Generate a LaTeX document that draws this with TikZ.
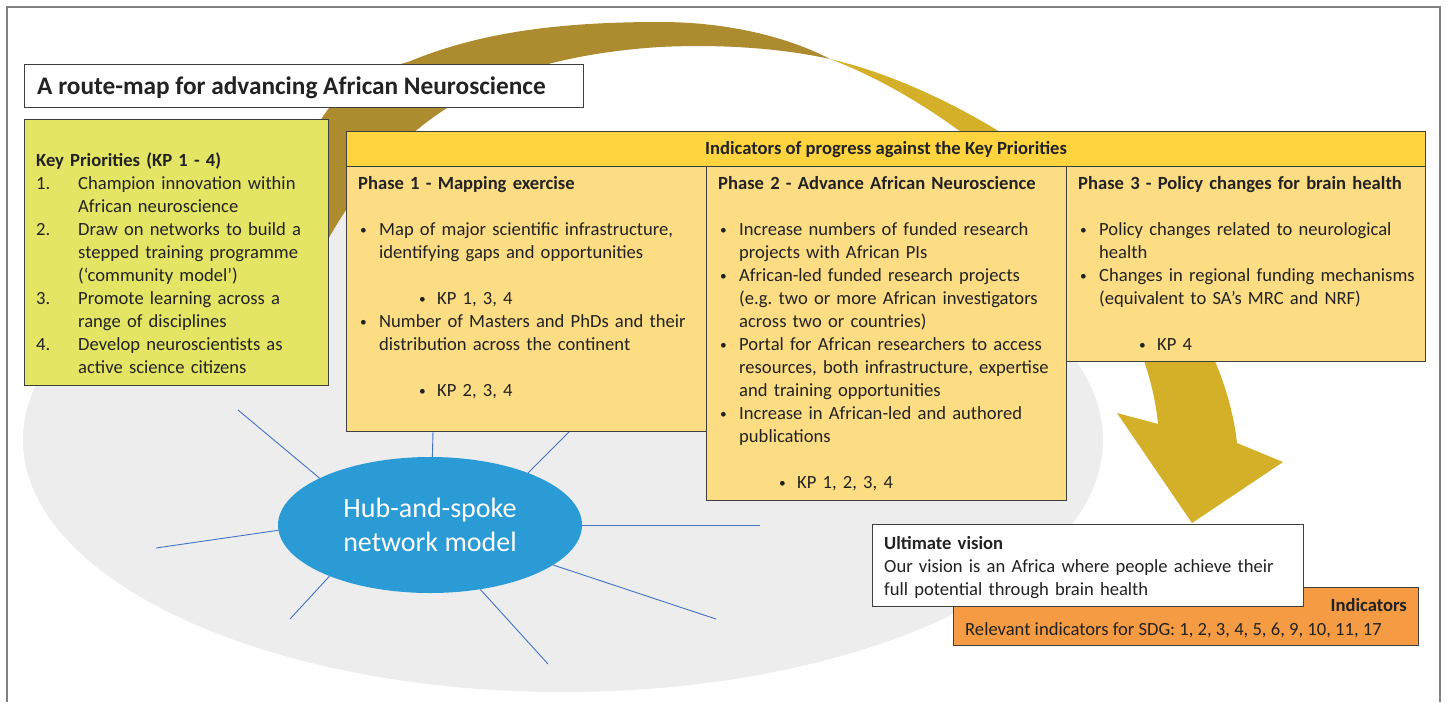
\documentclass[tikz,border=0pt]{standalone}
\usepackage{fontspec}
\setmainfont{Carlito}
\usepackage{tikz}
\usetikzlibrary{positioning,
	shapes.geometric}

\definecolor{framegray}{HTML}{808080}
\definecolor{bggray}{HTML}{EDEDED}
\definecolor{boxline}{HTML}{3F3F3F}
\definecolor{ink}{HTML}{222222}
\definecolor{kpgreen}{HTML}{E5E565}
\definecolor{hdryellow}{HTML}{FFD43F}
\definecolor{phyellow}{HTML}{FDDD83}
\definecolor{sdgorange}{HTML}{F59B43}
\definecolor{hubblue}{HTML}{2B9BD6}
\definecolor{spokeblue}{HTML}{4472C4}
\definecolor{ribback}{HTML}{AD8B2F}
\definecolor{ribfront}{HTML}{D4AF28}

\frenchspacing
\newcommand{\bodyfont}{\fontsize{18.6}{23}\selectfont}
\newcommand{\smalldot}{\raisebox{0.6pt}{\scalebox{0.72}{\textbullet}}}
\newcommand{\numcol}[1]{\makebox[42pt][l]{#1}}
\newcommand{\numgap}{\makebox[42pt]{}}
\newcommand{\dotcol}{\makebox[21pt][l]{\hspace{2pt}\smalldot}}
\newcommand{\dotgap}{\makebox[21pt]{}}
\newcommand{\kpdot}{\makebox[61pt]{}\makebox[18pt][l]{\smalldot}}

\begin{document}
\begin{tikzpicture}[x=1pt, y=-1pt,
	box/.style={draw=boxline, line width=1.1pt, anchor=north west, inner sep=0pt},
	txt/.style={anchor=base west, inner sep=0pt, align=left, font=\bodyfont, text=ink},
	spoke/.style={draw=spokeblue, line width=0.9pt}]

        \useasboundingbox (0,0) rectangle (1447,702);
        \draw[framegray, line width=1.3pt] (7,702) -- (7,7) -- (1440,7) -- (1440,702);
        \fill[bggray] (563,440) ellipse [x radius=540, y radius=252];

        \fill[ribback] (300,245) .. controls (295,140) and (320,85) .. (408,62)
            .. controls (480,32) and (560,22) .. (660,22)
            .. controls (730,22) and (790,38) .. (830,59)
            .. controls (780,48) and (720,44) .. (660,47)
            .. controls (580,52) and (510,70) .. (470,95)
            .. controls (410,125) and (360,180) .. (325,245) -- cycle;
        \fill[ribfront] (830,59) .. controls (985,95) and (1215,250) .. (1237,443)
            -- (1283,462) -- (1192,523) -- (1117,413) -- (1158,424)
            .. controls (1142,260) and (965,110) .. (830,59) -- cycle;

        \node[ellipse, fill=hubblue, minimum width=304pt, minimum height=136pt, inner sep=0pt,
            text=white, align=center, font=\fontsize{28}{34}\selectfont] (hub) at (430,525)
            {Hub-and-spoke\\network model};

        \coordinate (s1) at (238,410);
        \coordinate (s2) at (433,431);
        \coordinate (s3) at (570,431);
        \coordinate (s4) at (760,525);
        \coordinate (s5) at (716,619);
        \coordinate (s6) at (548,664);
        \coordinate (s7) at (290,619);
        \coordinate (s8) at (156,548);
        \draw[spoke] (hub.157.7) -- (s1);
        \draw[spoke] (hub.88.3) -- (s2);
        \draw[spoke] (hub.28.9) -- (s3);
        \draw[spoke] (hub.0) -- (s4);
        \draw[spoke] (hub.-18.9) -- (s5);
        \draw[spoke] (hub.-52.4) -- (s6);
        \draw[spoke] (hub.207.7) -- (s7);
        \draw[spoke] (hub.182.7) -- (s8);

        \node[box, fill=white, minimum width=559pt, minimum height=43pt] (title) at (24,64) {};
        \node[txt, font=\fontsize{25.3}{30}\selectfont\bfseries] (titletext) at (37,94)
            {A route-map for advancing African Neuroscience};

        \node[box, fill=kpgreen, minimum width=304pt, minimum height=266pt] (kp) at (24,119) {};
        \node[txt, text width=300pt] (kptext) at (36,166) {%
            {\bfseries Key Priorities (KP 1 - 4)}\\
            \numcol{1.}Champion innovation within\\
            \numgap African neuroscience\\
            \numcol{2.}Draw on networks to build a\\
            \numgap stepped training programme\\
            \numgap (‘community model’)\\
            \numcol{3.}Promote learning across a\\
            \numgap range of disciplines\\
            \numcol{4.}Develop neuroscientists as\\
            \numgap active science citizens};

        \node[box, fill=phyellow, minimum width=360pt, minimum height=266pt] (ph1) at (346,165) {};
        \node[box, fill=phyellow, minimum width=360pt, minimum height=335pt] (ph2) at (706,165) {};
        \node[box, fill=phyellow, minimum width=359pt, minimum height=196pt] (ph3) at (1066,165) {};
        \node[box, fill=hdryellow, minimum width=1079pt, minimum height=35pt,
            font=\bodyfont\bfseries, text=ink] (hdr) at (346,131)
            {Indicators of progress against the Key Priorities};

        \node[txt, text width=345pt] (ph1text) at (358,189) {%
            {\bfseries Phase 1 - Mapping exercise}\\[23pt]
            \dotcol Map of major scientific infrastructure,\\
            \dotgap identifying gaps and opportunities\\[23pt]
            \kpdot KP 1, 3, 4\\
            \dotcol Number of Masters and PhDs and their\\
            \dotgap distribution across the continent\\[23pt]
            \kpdot KP 2, 3, 4};

        \node[txt, text width=345pt] (ph2text) at (718,189) {%
            {\bfseries Phase 2 - Advance African Neuroscience}\\[23pt]
            \dotcol Increase numbers of funded research\\
            \dotgap projects with African PIs\\
            \dotcol African-led funded research projects\\
            \dotgap (e.g. two or more African investigators\\
            \dotgap across two or countries)\\
            \dotcol Portal for African researchers to access\\
            \dotgap resources, both infrastructure, expertise\\
            \dotgap and training opportunities\\
            \dotcol Increase in African-led and authored\\
            \dotgap publications\\[23pt]
            \kpdot KP 1, 2, 3, 4};

        \node[txt, text width=345pt] (ph3text) at (1078,189) {%
            {\bfseries Phase 3 - Policy changes for brain health}\\[23pt]
            \dotcol Policy changes related to neurological\\
            \dotgap health\\
            \dotcol Changes in regional funding mechanisms\\
            \dotgap (equivalent to SA’s MRC and NRF)\\[23pt]
            \kpdot KP 4};

        \node[box, fill=sdgorange, minimum width=465pt, minimum height=58pt] (sdg) at (953,587) {};
        \node[box, fill=white, minimum width=431pt, minimum height=82pt] (vision) at (872,524) {};
        \node[txt, text width=420pt] (visiontext) at (884,549) {%
            {\bfseries Ultimate vision}\\
            Our vision is an Africa where people achieve their\\
            full potential through brain health};
        \node[txt, anchor=base east, font=\bodyfont\bfseries] (sdghead) at (1407,611) {Indicators};
        \node[txt] (sdgtext) at (965,635) {Relevant indicators for SDG: 1, 2, 3, 4, 5, 6, 9, 10, 11, 17};

    \end{tikzpicture}
\end{document}
